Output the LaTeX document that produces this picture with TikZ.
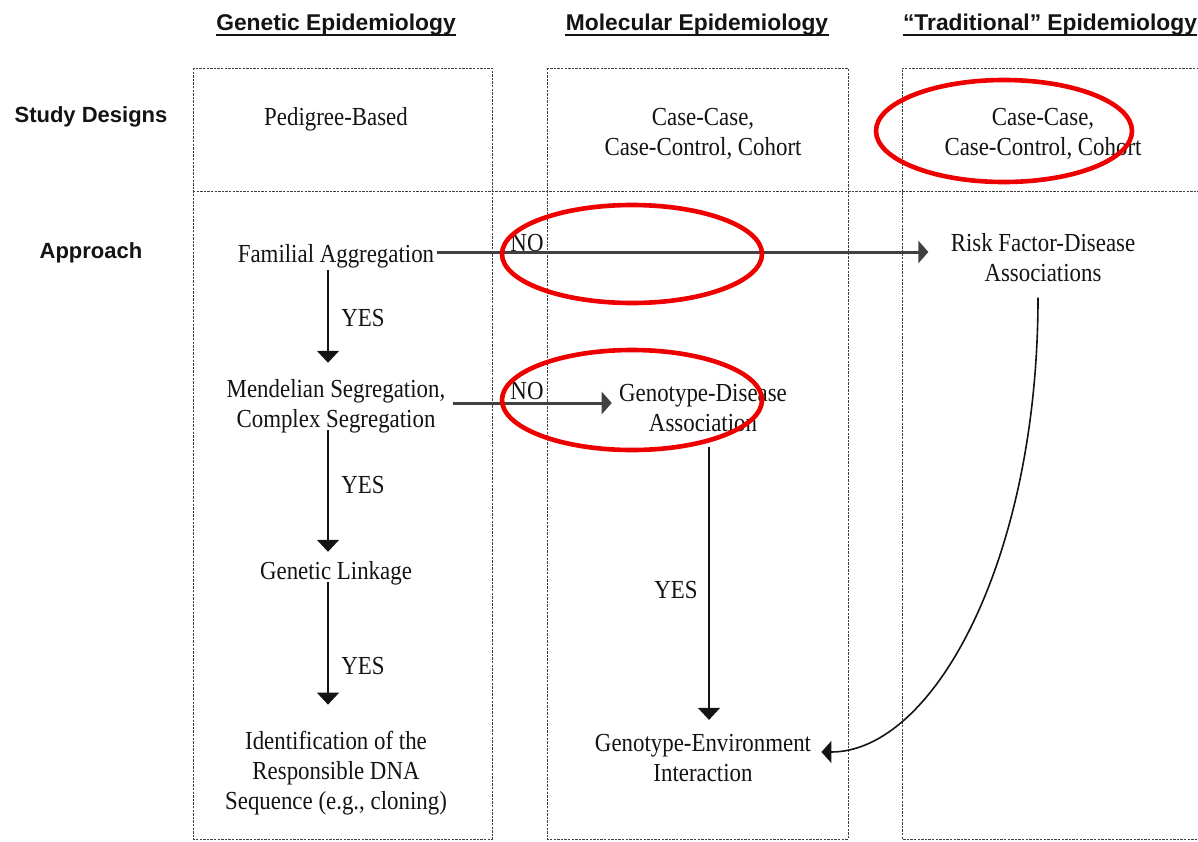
\documentclass[tikz,border=0pt]{standalone}
\usepackage{fontspec}
\setmainfont{Liberation Serif}[FakeStretch=0.88]
\setsansfont{Liberation Sans}
\usetikzlibrary{arrows.meta,calc}
\definecolor{ringred}{RGB}{238,0,0}
\definecolor{ink}{RGB}{20,20,20}
\begin{document}
\begin{tikzpicture}[x=0.5pt,y=-0.5pt,
  lbl/.style={font=\fontsize{13}{15}\selectfont, align=center, inner sep=0pt, text=ink},
  head/.style={font=\sffamily\bfseries\fontsize{11.4}{13}\selectfont, inner sep=0pt, text=ink},
  rowlab/.style={font=\sffamily\bfseries\fontsize{11}{13}\selectfont, inner sep=0pt, text=ink},
  uline/.style={draw=ink, line width=1pt},
  frame/.style={draw=black!75, line width=0.45pt, dash pattern=on 1.2pt off 0.6pt},
  varr/.style={draw=ink, line width=0.7pt, -{Triangle[length=6pt,width=11pt]}},
  harr/.style={draw=black!75, line width=1.5pt, -{Triangle[length=5pt,width=11pt]}},
  carr/.style={draw=ink, line width=0.8pt, -{Triangle[length=5pt,width=11pt]}},
  ring/.style={draw=ringred, line width=2.3pt}]
\useasboundingbox[fill=white] (0,0) rectangle (1198,841);

% column frames and the row divider
\draw[frame] (193,68) rectangle (492,839);
\draw[frame] (547,68) rectangle (848,839);
\draw[frame] (1199,68) -- (902,68) -- (902,839) -- (1199,839);
\draw[frame] (193,191) -- (1199,191);

% column headings
\node[head, anchor=base] (hgen) at (336,30) {Genetic Epidemiology};
\node[head, anchor=base] (hmol) at (697,30) {Molecular Epidemiology};
\node[head, anchor=base] (htra) at (1050,30) {“Traditional” Epidemiology};
\foreach \h in {hgen,hmol,htra}
  \draw[uline] ([yshift=-2.6pt]\h.base west) -- ([yshift=-2.6pt]\h.base east);

% row headings
\node[rowlab] (sd) at (91,117) {Study Designs};
\node[rowlab] (ap) at (91,253) {Approach};

% study designs
\node[lbl] (ped) at (336,119) {Pedigree-Based};
\node[lbl] (ccm) at (703,134) {Case-Case,\\Case-Control, Cohort};
\node[lbl] (cct) at (1043,134) {Case-Case,\\Case-Control, Cohort};

% approach steps
\node[lbl] (fam) at (336,256) {Familial Aggregation};
\node[lbl] (mend) at (336,406) {Mendelian Segregation,\\Complex Segregation};
\node[lbl] (link) at (336,573) {Genetic Linkage};
\node[lbl] (ident) at (336,773) {Identification of the\\Responsible DNA\\Sequence (e.g., cloning)};
\node[lbl] (risk) at (1043,258) {Risk Factor-Disease\\Associations};
\node[lbl] (gd) at (703,408) {Genotype-Disease\\Association};
\node[lbl] (ge) at (703,758) {Genotype-Environment\\Interaction};

% YES branches
\draw[varr] ([xshift=-4pt,yshift=-1pt]fam.south) -- ([xshift=-4pt,yshift=8pt]mend.north);
\draw[varr] ([xshift=-4pt,yshift=1.5pt]mend.south) -- ([xshift=-4pt,yshift=4.5pt]link.north);
\draw[varr] ([xshift=-4pt,yshift=1.5pt]link.south) -- ([xshift=-4pt,yshift=13pt]ident.north);
\draw[varr] ([xshift=3pt,yshift=-7.5pt]gd.south) -- ([xshift=3pt,yshift=7pt]ge.north);
\node[lbl] (y1) at (363,318) {YES};
\node[lbl] (y2) at (363,485) {YES};
\node[lbl] (y3) at (363,666) {YES};
\node[lbl] (y4) at (676,590) {YES};

% NO branches
\draw[harr, shorten <=1pt, shorten >=11pt] ($(fam.east)+(0,-4)$) -- ($(fam.east -| risk.west)+(0,-4)$);
\draw[harr, shorten >=3.5pt] ($(mend.east)+(7,-3)$) -- ($(mend.east -| gd.west)+(0,-3)$);
\node[lbl] (n1) at (527,243) {NO};
\node[lbl] (n2) at (527,391) {NO};

% risk factors feed into gene-environment interaction
\draw[carr] ([xshift=-2.5pt,yshift=-7.5pt]risk.south) .. controls +(0,262) and +(112,0) .. ([xshift=5pt,yshift=3pt]ge.east);

% highlight rings
\draw[ring] (1004,131) ellipse [x radius=64pt, y radius=25.5pt];
\draw[ring] (632,254) ellipse [x radius=65pt, y radius=24.5pt];
\draw[ring] (632,400) ellipse [x radius=65pt, y radius=25pt];
\end{tikzpicture}
\end{document}
